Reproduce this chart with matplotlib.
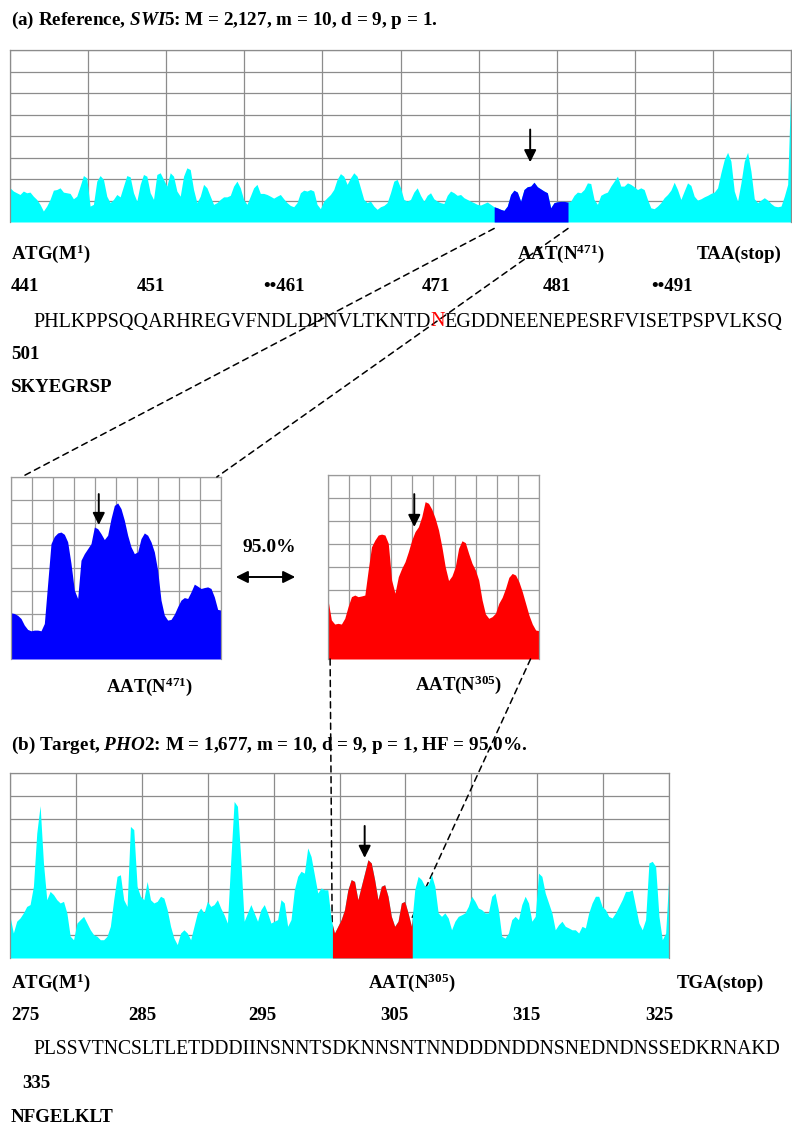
import numpy as np
import matplotlib.pyplot as plt
from matplotlib.patches import ConnectionPatch, FancyArrowPatch


# --- fonts ---
plt.rcParams['font.family'] = 'Liberation Serif'
plt.rcParams['mathtext.fontset'] = 'custom'
plt.rcParams['mathtext.rm'] = 'Liberation Serif:bold'
plt.rcParams['mathtext.bf'] = 'Liberation Serif:bold'
plt.rcParams['mathtext.it'] = 'Liberation Serif:italic:bold'

# --- search parameters ---
m_len, d_len, p_val = 10, 9, 1
hf = 95.0  # homology fraction (%)

# --- reference gene SWI5 ---
ref_len = 2127
ref_profile = [
    1.59, 1.44, 1.36, 1.28, 1.44, 1.36, 1.39, 1.20, 1.05, 0.82,
    0.51, 0.74, 1.05, 1.48, 1.51, 1.59, 1.39, 1.36, 1.33, 1.08,
    1.20, 1.67, 2.16, 2.05, 0.74, 0.82, 1.90, 2.16, 1.98, 1.20,
    0.90, 1.05, 1.28, 1.17, 1.67, 2.16, 2.10, 1.36, 0.97, 1.75,
    2.21, 2.13, 1.36, 1.05, 2.21, 2.29, 1.98, 1.67, 2.29, 2.13,
    1.44, 1.20, 2.13, 2.52, 2.44, 1.51, 0.90, 1.20, 1.75, 1.59,
    1.20, 0.82, 0.90, 1.05, 1.17, 1.17, 1.24, 1.67, 1.90, 1.59,
    1.05, 0.82, 1.20, 1.59, 1.75, 1.33, 1.33, 1.28, 1.20, 1.11,
    1.20, 1.28, 1.08, 0.90, 0.77, 0.71, 0.90, 1.36, 1.48, 1.44,
    1.51, 1.44, 0.82, 0.62, 0.97, 1.13, 1.28, 1.51, 1.98, 2.25,
    2.13, 1.75, 2.05, 2.29, 2.13, 1.59, 1.05, 0.90, 0.97, 0.74,
    0.59, 0.71, 0.77, 0.90, 1.36, 1.90, 1.98, 1.59,
    1.05, 0.97, 1.05, 1.39, 1.59, 1.24, 0.97, 1.24, 1.36, 1.08,
    0.97, 0.90, 0.86, 1.24, 1.44, 1.36, 1.24, 1.28, 1.13, 1.05,
    0.97, 0.90, 0.82, 0.79, 0.86, 0.93, 0.82, 0.71, 0.66, 0.59,
    0.54, 0.74, 1.28, 1.48, 1.39, 0.97, 1.51, 1.64, 1.67, 1.85,
    1.64, 1.54, 1.44, 1.36, 0.66, 0.90, 0.94, 0.96, 0.96, 0.93,
    0.97, 1.24, 1.39, 1.36, 1.51, 1.82, 1.79, 1.05, 0.82, 1.24,
    1.33, 1.39, 1.67, 1.90, 2.13, 1.67, 1.67, 1.82, 1.75, 1.64,
    1.51, 1.59, 1.51, 1.05, 0.66, 0.62, 0.74, 0.90, 1.13, 1.28,
    1.48, 1.85, 1.51, 1.05, 1.44, 1.82, 1.70, 1.20, 1.02, 1.08,
    1.17, 1.24, 1.33, 1.39, 1.59, 2.29, 2.90, 3.24, 2.83, 1.44,
    0.97, 1.82, 2.83, 3.24, 2.36, 1.08, 0.90, 1.02, 1.13, 1.02,
    0.86, 0.74, 0.71, 0.74, 1.20, 1.75, 6.61,
]
ref_window = (1319, 1520)          # nt range shown in the inset
ref_arrow = (1417, 2.78, 4.30)     # x, tip, tail
ref_zoom = [
    2.03, 2.00, 1.92, 1.78, 1.49, 1.30, 1.24, 1.27, 1.27, 1.24,
    1.56, 3.32, 5.07, 5.39, 5.54, 5.58, 5.48, 5.15, 4.20, 3.03,
    2.66, 4.34, 4.63, 4.85, 5.07, 5.80, 5.73, 5.51, 5.25, 5.44,
    6.17, 6.75, 6.86, 6.61, 6.10, 5.44, 4.93, 4.63, 4.71, 5.29,
    5.54, 5.44, 5.15, 4.71, 3.90, 2.59, 1.93, 1.71, 1.74, 1.97,
    2.30, 2.59, 2.70, 2.66, 2.95, 3.29, 3.20, 3.10, 3.14, 3.17,
    3.10, 2.73, 2.18, 2.15,
]
ref_zoom_arrow = (1403, 5.89, 7.25)
ref_codon = 'AAT(N$^{471}$)'
ref_stop = 'TAA(stop)'
ref_numbers = ['441', '451', '\u2022\u2022461', '471', '481', '\u2022\u2022491']
ref_seq = 'PHLKPPSQQARHREGVFNDLDPNVLTKNTDNEGDDNEENEPESRFVISETPSPVLKSQ'
ref_seq_start = 441
ref_site = 471
ref_tail_num = '501'
ref_tail = 'SKYEGRSP'

# --- target gene PHO2 ---
tgt_len = 1677
tgt_profile = [
    1.80, 1.08, 1.59, 1.73, 1.95, 2.23, 2.31, 3.10, 5.40, 6.59,
    4.11, 2.52, 2.88, 2.74, 2.52, 2.38, 2.45, 1.95, 0.94, 0.79,
    1.51, 1.66, 1.80, 1.51, 1.22, 1.01, 0.94, 0.79, 0.79, 0.94,
    1.37, 2.52, 3.53, 3.60, 2.52, 2.23, 5.69, 5.55, 3.10, 2.67,
    2.52, 3.31, 2.52, 2.38, 2.45, 2.67, 2.59, 2.09, 1.37, 0.86,
    0.58, 1.08, 1.22, 1.08, 0.79, 1.37, 1.95, 2.16, 1.95, 2.45,
    2.23, 2.31, 2.52, 2.16, 1.87, 1.51, 4.25, 6.77, 6.56, 4.25,
    1.59, 1.95, 2.31, 1.95, 1.59, 2.09, 2.31, 1.95, 1.51, 1.59,
    1.66, 2.52, 2.38, 1.37, 1.66, 2.95, 3.53, 3.75, 3.67, 4.76,
    4.39, 3.60, 2.81, 3.03, 2.95, 2.95, 1.66, 1.08, 1.37, 1.66,
    2.09, 2.95, 3.39, 3.31, 2.52, 3.10, 3.67, 4.25, 4.11, 3.39,
    2.52, 3.10, 3.17, 2.67, 1.80, 1.37, 1.59,
    2.38, 2.45, 1.95, 1.37, 2.95, 3.53, 3.39, 3.10, 3.17, 3.60,
    3.10, 1.95, 1.80, 1.95, 1.73, 1.22, 1.59, 1.80, 1.87, 1.95,
    2.23, 2.67, 2.45, 2.16, 2.09, 1.95, 1.95, 2.67, 2.81, 2.09,
    0.94, 0.86, 1.08, 1.66, 1.80, 1.66, 2.31, 2.67, 2.38, 1.59,
    1.80, 3.67, 3.53, 2.81, 2.38, 1.95, 1.22, 1.44, 1.59, 1.37,
    1.30, 1.22, 1.22, 1.08, 1.37, 1.30, 1.95, 2.38, 2.67, 2.67,
    2.23, 2.09, 1.80, 1.73, 1.95, 2.23, 2.52, 2.88, 2.88, 2.95,
    2.23, 1.51, 1.22, 1.66, 4.11, 4.18, 3.96, 1.80, 0.79, 1.08,
    3.67,
]
tgt_window = (821, 1024)
tgt_arrow = (903, 4.33, 5.71)
tgt_zoom = [
    2.57, 1.70, 1.52, 1.55, 1.52, 1.77, 2.28, 2.71, 2.78, 2.71,
    2.74, 2.78, 3.87, 4.88, 5.17, 5.39, 5.43, 5.39, 5.03, 3.43,
    2.86, 3.58, 3.94, 4.23, 4.67, 5.17, 5.54, 5.75, 6.19, 6.84,
    6.77, 6.51, 6.12, 5.61, 4.88, 4.01, 3.41, 3.61, 4.01, 4.81,
    5.14, 5.06, 4.59, 4.16, 3.87, 3.43, 2.57, 1.96, 1.77, 1.84,
    1.99, 2.42, 2.68, 3.07, 3.55, 3.72, 3.65, 3.36, 2.93, 2.42,
    1.91, 1.52, 1.26, 1.23,
]
tgt_zoom_arrow = (904, 5.74, 7.17)
tgt_codon = 'AAT(N$^{305}$)'
tgt_stop = 'TGA(stop)'
tgt_numbers = ['275', '285', '295', '305', '315', '325']
tgt_seq = 'PLSSVTNCSLTLETDDDIINSNNTSDKNNSNTNNDDDNDDNSNEDNDNSSEDKRNAKD'
tgt_tail_num = '335'
tgt_tail = 'NFGELKLT'

CYAN, BLUE, RED = '#00ffff', '#0000ff', '#ff0000'

# ------------ layout (pixels from top-left) ------------
W, H = 792, 1127
fig = plt.figure(figsize=(W / 100, H / 100), dpi=100)
renderer = fig.canvas.get_renderer()


def rect(x0, y0, x1, y1):
    return [x0 / W, 1 - y1 / H, (x1 - x0) / W, (y1 - y0) / H]


def put(x, y, s, **kw):
    kw.setdefault('va', 'center')
    kw.setdefault('fontweight', 'bold')
    return fig.text(x / W, 1 - y / H, s, **kw)


def fit_size(s, width, base=14, **kw):
    # font size at which the string s is `width` pixels wide
    t = fig.text(0, 0, s, fontsize=base, **kw)
    w = t.get_window_extent(renderer).width
    t.remove()
    return base * width / w


def profile_axes(box, x, y, color, grid_color):
    ax = fig.add_axes(box)
    ax.fill_between(x, y, color=color, lw=0, zorder=1)
    ax.set_xlim(x[0], x[-1])
    ax.set_ylim(0, 8)
    ax.set_xticks(np.linspace(x[0], x[-1], 11))
    ax.set_yticks(np.arange(0, 9))
    ax.tick_params(length=0, labelbottom=False, labelleft=False)
    ax.set_axisbelow(True)
    ax.grid(color=grid_color, lw=0.9)
    for sp in ax.spines.values():
        sp.set_color(grid_color)
        sp.set_linewidth(0.9)
    ax.spines['bottom'].set_visible(False)
    return ax


def highlight(ax, x, y, window, color):
    # refill the window part of the profile in another colour
    x = np.asarray(x)
    y = np.asarray(y)
    inside = (x > window[0]) & (x < window[1])
    xs = np.concatenate([[window[0]], x[inside], [window[1]]])
    ys = np.concatenate([[np.interp(window[0], x, y)], y[inside], [np.interp(window[1], x, y)]])
    ax.fill_between(xs, ys, color=color, lw=0, zorder=1.1)


def down_arrow(ax, spec):
    xa, tip, tail = spec
    ax.annotate('', xy=(xa, tip), xytext=(xa, tail),
                arrowprops=dict(arrowstyle='-|>,head_length=0.36,head_width=0.18',
                                mutation_scale=20, color='black', lw=1.4,
                                shrinkA=0, shrinkB=0), zorder=5)


def chained(x, y, parts, **kw):
    # write consecutive pieces of text, each starting where the last one ended
    for s, c in parts:
        t = put(x, y, s, color=c, **kw)
        x = t.get_window_extent(renderer).x1


TITLE, LABEL = 13.8, 13.6

# --- reference panel ---
ref_x = np.linspace(1, ref_len, len(ref_profile))
ax_ref = profile_axes(rect(10, 50, 791, 222), ref_x, ref_profile, CYAN, '#8c8c8c')
highlight(ax_ref, ref_x, ref_profile, ref_window, BLUE)
down_arrow(ax_ref, ref_arrow)

put(11, 20, f'(a) Reference, $\\mathit{{SWI}}$5: M = {ref_len:,}, m = {m_len}, d = {d_len}, p = {p_val}.',
    fontsize=TITLE)
put(11, 254, 'ATG(M$^1$)', fontsize=LABEL)
put(517, 254, ref_codon, fontsize=LABEL)
put(697, 254, ref_stop, fontsize=LABEL)
for xp, s in zip([11, 137, 263, 422, 543, 651], ref_numbers):
    put(xp, 287, s, fontsize=LABEL)
k = ref_site - ref_seq_start
seq_size = fit_size(ref_seq, 757, fontweight='normal')
chained(33, 322, [(ref_seq[:k], 'black'), (ref_seq[k], RED), (ref_seq[k + 1:], 'black')],
        fontsize=seq_size, fontweight='normal')
put(11, 355, ref_tail_num, fontsize=LABEL)
put(11, 388, ref_tail, fontsize=LABEL)

# --- zoomed windows ---
zx_ref = np.linspace(ref_window[0], ref_window[1], len(ref_zoom))
ax_zr = profile_axes(rect(11, 477, 221, 659), zx_ref, ref_zoom, BLUE, '#9a9a9a')
down_arrow(ax_zr, ref_zoom_arrow)

zx_tgt = np.linspace(tgt_window[0], tgt_window[1], len(tgt_zoom))
ax_zt = profile_axes(rect(328, 475, 539, 659), zx_tgt, tgt_zoom, RED, '#9a9a9a')
down_arrow(ax_zt, tgt_zoom_arrow)

put(269, 548, f'{hf:.1f}%', fontsize=14, ha='center')
fig.add_artist(FancyArrowPatch(
    (233 / W, 1 - 577 / H), (298 / W, 1 - 577 / H), transform=fig.transFigure,
    arrowstyle='<|-|>,head_length=0.36,head_width=0.18', mutation_scale=20,
    color='black', lw=1.4))
put(150, 687, ref_codon, fontsize=13.5, ha='center')
put(459, 685, tgt_codon, fontsize=13.5, ha='center')

# --- target panel ---
tgt_x = np.linspace(1, tgt_len, len(tgt_profile))
ax_tgt = profile_axes(rect(10, 773, 669, 958), tgt_x, tgt_profile, CYAN, '#8c8c8c')
highlight(ax_tgt, tgt_x, tgt_profile, tgt_window, RED)
down_arrow(ax_tgt, tgt_arrow)

put(11, 745, f'(b) Target, $\\mathit{{PHO}}$2: M = {tgt_len:,}, m = {m_len}, d = {d_len}, '
             f'p = {p_val}, HF = {hf:.1f}%.', fontsize=TITLE)
put(11, 983, 'ATG(M$^1$)', fontsize=LABEL)
put(368, 983, tgt_codon, fontsize=LABEL)
put(677, 983, tgt_stop, fontsize=LABEL)
for xp, s in zip([11, 128, 248, 380, 512, 645], tgt_numbers):
    put(xp, 1016, s, fontsize=LABEL)
put(33, 1050, tgt_seq, fontsize=fit_size(tgt_seq, 752, fontweight='normal'),
    fontweight='normal')
put(22, 1084, tgt_tail_num, fontsize=LABEL)
put(11, 1117, tgt_tail, fontsize=LABEL)

# --- dashed connectors between the panels and the insets ---
dash = dict(linestyle=(0, (4, 3)), color='black', lw=1.1)
for xa, corner in [(ref_window[0], (0.05, 1)), (ref_window[1], (0.98, 1))]:
    con = ConnectionPatch(xyA=(xa, -0.3), coordsA=ax_ref.transData,
                          xyB=corner, coordsB=ax_zr.transAxes, **dash)
    fig.add_artist(con)

ends = [(tgt_window[0], 0),
        (tgt_window[1], np.interp(tgt_window[1], tgt_x, tgt_profile))]
for corner, end in zip([(0.01, 0), (0.96, 0)], ends):
    con = ConnectionPatch(xyA=corner, coordsA=ax_zt.transAxes,
                          xyB=end, coordsB=ax_tgt.transData,
                          zorder=0.8, **dash)
    ax_tgt.add_artist(con)
    con.set_clip_on(False)

fig.savefig('out.png', dpi=100)
